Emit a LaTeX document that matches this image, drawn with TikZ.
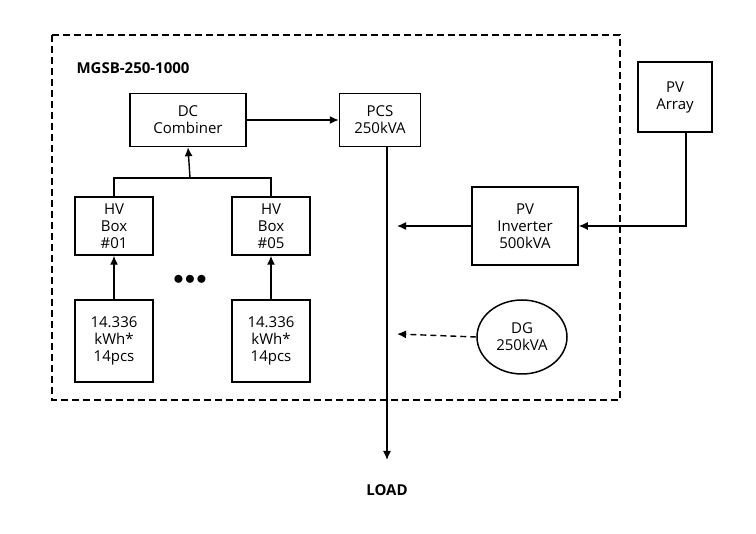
\documentclass[tikz,border=0pt]{standalone}
\usepackage{fontspec}
\setmainfont{Open Sans}
\usetikzlibrary{positioning, arrows.meta, shapes.geometric}
\tikzset{
  block/.style = {draw, line width=1.5pt, align=center, font=\fontsize{15}{17}\selectfont, inner sep=1pt},
  flow/.style = {line width=1.4pt, -{Latex[length=9pt, width=8pt]}},
}
\begin{document}
\begin{tikzpicture}[x=1pt, y=-1pt]
  \useasboundingbox (0,0) rectangle (756,534);
  \draw[line width=1.5pt, dash pattern=on 7pt off 4pt] (52,35) rectangle (620,400);
  \node[font=\bfseries\fontsize{15}{17}\selectfont, anchor=west] (title) at (73,68) {MGSB-250-1000};

  \node[block, minimum width=116pt, minimum height=53pt] (comb) at (188,120) {DC\\Combiner};
  \node[block, minimum width=81pt, minimum height=53pt] (pcs) at (380,120) {PCS\\250kVA};
  \node[block, minimum width=74pt, minimum height=70pt] (array) at (675,97) {PV\\Array};
  \node[block, minimum width=106pt, minimum height=78pt] (inv) at (525,226) {PV\\Inverter\\500kVA};
  \node[block, ellipse, minimum width=90pt, minimum height=74pt] (dg) at (522,337) {DG\\250kVA};

  \node[block, minimum width=78pt, minimum height=58pt, inner sep=0pt] (hv1) at (114,226) {HV\\Box\\\#01};
  \node[block, minimum width=78pt, minimum height=58pt, inner sep=0pt] (hv5) at (271,226) {HV\\Box\\\#05};
  \node[block, minimum width=78pt, minimum height=82pt] (bat1) at (114,341) {14.336\\kWh*\\14pcs};
  \node[block, minimum width=78pt, minimum height=82pt] (bat5) at (271,341) {14.336\\kWh*\\14pcs};
  \node[font=\bfseries\fontsize{20}{20}\selectfont] (dots) at (190,280) {$\bullet\!\bullet\!\bullet$};

  \node[font=\bfseries\fontsize{15}{17}\selectfont] (load) at (387,490) {LOAD};
  \coordinate (bus) at (387,460);
  \coordinate (hvjoin) at (190,178);
  \coordinate (invin) at (397,226);
  \coordinate (dgin) at (397,334);

  \draw[flow] (comb) -- (pcs);
  \draw[flow] (pcs.south -| bus) -- (bus);
  \draw[line width=1.4pt] (hv1.north) |- (hvjoin) -| (hv5.north);
  \draw[flow] (hvjoin) -- (comb.south);
  \draw[flow] (bat1) -- (hv1);
  \draw[flow] (bat5) -- (hv5);
  \draw[flow] (array.south -| 686,0) |- (inv.east);
  \draw[flow] (inv.west) -- (invin);
  \draw[flow, dash pattern=on 6pt off 4pt] (dg.west) -- (dgin);
\end{tikzpicture}
\end{document}
